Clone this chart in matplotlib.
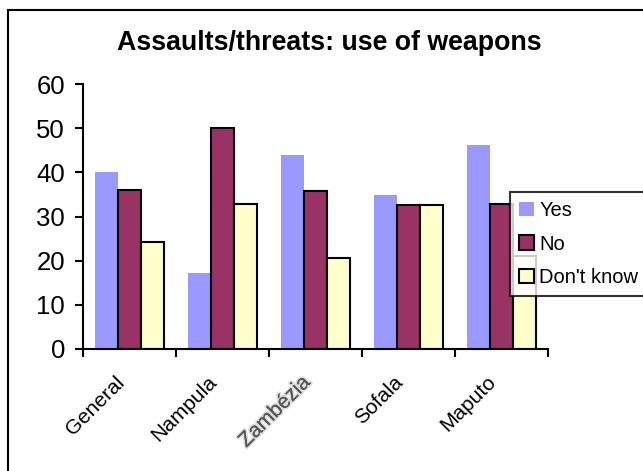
import matplotlib
matplotlib.use("Agg")
import matplotlib.pyplot as plt
import numpy as np
from matplotlib.patches import Rectangle
from matplotlib.transforms import ScaledTranslation
import matplotlib.patheffects as pe

plt.rcParams['font.family'] = ['Liberation Sans', 'DejaVu Sans']

categories = ["General", "Nampula", "Zambézia", "Sofala", "Maputo"]
series_names = ["Yes", "No", "Don't know"]
yes_vals = [40, 17.3, 43.9, 34.8, 46.1]
no_vals = [36, 50, 35.7, 32.7, 32.9]
dk_vals = [24.3, 32.8, 20.5, 32.7, 21]
yticks = [0, 10, 20, 30, 40, 50, 60]

colors = ["#9999FF", "#993366", "#FFFFCC"]

fig = plt.figure(figsize=(6.43, 4.71), dpi=100)
ax = fig.add_axes([83/643, 1-349/471, (548-83)/643, (349-84)/471])

x = np.arange(len(categories))
w = 0.25
ax.bar(x - w, yes_vals, w, color=colors[0], edgecolor='none', label=series_names[0], zorder=2)
ax.bar(x, no_vals, w, color=colors[1], edgecolor='black', linewidth=1.5, label=series_names[1], zorder=2)
ax.bar(x + w, dk_vals, w, color=colors[2], edgecolor='black', linewidth=1.5, label=series_names[2], zorder=2)

ax.set_xlim(-0.5, len(categories) - 0.5)
ax.set_ylim(0, 60)
ax.set_yticks(yticks)
ax.tick_params(axis='y', direction='out', length=6, width=1.5, pad=7, labelsize=18.5)

ax.set_xticks(x)
ax.set_xticklabels(categories, rotation=45, ha='right', rotation_mode='anchor', fontsize=15)
ax.set_xticks(np.arange(len(categories) + 1) - 0.5, minor=True)
ax.tick_params(axis='x', which='major', length=0, pad=17)
ax.tick_params(axis='x', which='minor', direction='out', length=6, width=1.5)
off = ScaledTranslation(-0.15, 0, fig.dpi_scale_trans)
for lab in ax.get_xticklabels():
    lab.set_transform(lab.get_transform() + off)
    if lab.get_text() == "Zambézia":
        lab.set_color('#555555')
        lab.set_path_effects([pe.withStroke(linewidth=2.5, foreground='#dddddd'), pe.Normal()])

for s in ['top', 'right']:
    ax.spines[s].set_visible(False)
for s in ['left', 'bottom']:
    ax.spines[s].set_linewidth(1.5)

fig.text(0.512, 1 - 50/471, "Assaults/threats: use of weapons", ha='center', va='baseline',
         fontsize=19.3, fontweight='bold')

leg = fig.legend(loc='upper left', bbox_to_anchor=(510/643, 1 - 192/471), fontsize=14.5,
                 frameon=True, fancybox=False, borderaxespad=0, borderpad=0.45,
                 handlelength=0.75, handleheight=0.75, handletextpad=0.25,
                 labelspacing=0.72)
leg.get_frame().set_edgecolor('black')
leg.get_frame().set_linewidth(1.5)

fig.patches.append(Rectangle((8/643, -0.2), 1.2, 1.2 - 9.5/471, transform=fig.transFigure,
                             fill=False, edgecolor='black', linewidth=1.5, zorder=10))

fig.savefig("out.png", dpi=100)
